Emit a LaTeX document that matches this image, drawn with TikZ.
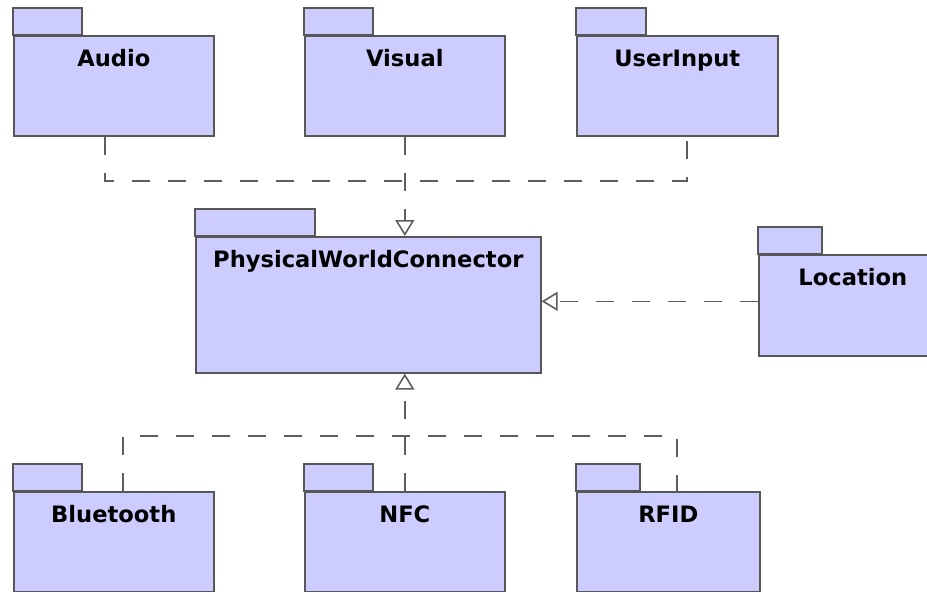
\documentclass[tikz,border=0pt]{standalone}
\usepackage{fontspec}
\setmainfont{DejaVu Sans}
\usetikzlibrary{arrows.meta,calc}

\definecolor{pkgfill}{HTML}{CCCCFF}
\definecolor{pkgline}{HTML}{575757}
\definecolor{depline}{HTML}{5E5E5E}

\tikzset{
  pkgbody/.style={draw=pkgline, fill=pkgfill, line width=1.6pt,
    inner sep=0pt, anchor=north west},
  pkgtab/.style={draw=pkgline, fill=pkgfill, line width=1.6pt},
  pkglabel/.style={anchor=base, inner sep=0pt,
    font=\bfseries\fontsize{22.6pt}{26pt}\selectfont},
  dep/.style={draw=depline, line width=1.6pt, dash pattern=on 18pt off 18pt},
  realize/.style={dep, -{Triangle[open, length=16pt, width=19pt]}}
}

% draws one UML package: name, left, top, width, height, tab width, label
\newcommand\umlpackage[7]{%
  \node[pkgbody, minimum width=#4pt, minimum height=#5pt] (#1) at (#2,#3) {};
  \draw[pkgtab] (#1.north west) rectangle ++(#6pt,27pt);
  \node[pkglabel] (#1-label) at ([yshift=-31pt]#1.north) {#7};
}

\begin{document}
\begin{tikzpicture}[x=1pt, y=-1pt]
  \useasboundingbox (0,0) rectangle (927,592);

  % packages
  \umlpackage{audio}{13}{35}{200}{100}{69}{Audio}
  \umlpackage{visual}{304}{35}{200}{100}{69}{Visual}
  \umlpackage{userinput}{576}{35}{201}{100}{70}{UserInput}
  \umlpackage{pwc}{195}{236}{345}{136}{120}{PhysicalWorldConnector}
  \umlpackage{location}{758}{254}{188}{101}{64}{Location}
  \umlpackage{bluetooth}{13}{491}{200}{100}{69}{Bluetooth}
  \umlpackage{nfc}{304}{491}{200}{100}{69}{NFC}
  \umlpackage{rfid}{576}{491}{183}{100}{64}{RFID}

  % junction points of the shared dependency lines
  \coordinate (topjoin) at (404,181);
  \coordinate (botjoin) at (404,436);

  % upper dependencies
  \draw[dep] ([xshift=-9pt]audio.south) |- (topjoin)
             -| ([xshift=9.5pt]userinput.south);
  \draw[realize] (visual.south) -- (visual.south |- pwc.north);

  % location dependency
  \draw[realize] ([yshift=4pt]location.west) -- ([yshift=4pt]location.west -| pwc.east);

  % lower dependencies
  \draw[dep] ([xshift=9pt]bluetooth.north) |- (botjoin)
             -| ([xshift=8.5pt]rfid.north);
  \draw[realize] (nfc.north) -- (nfc.north |- pwc.south);
\end{tikzpicture}
\end{document}
